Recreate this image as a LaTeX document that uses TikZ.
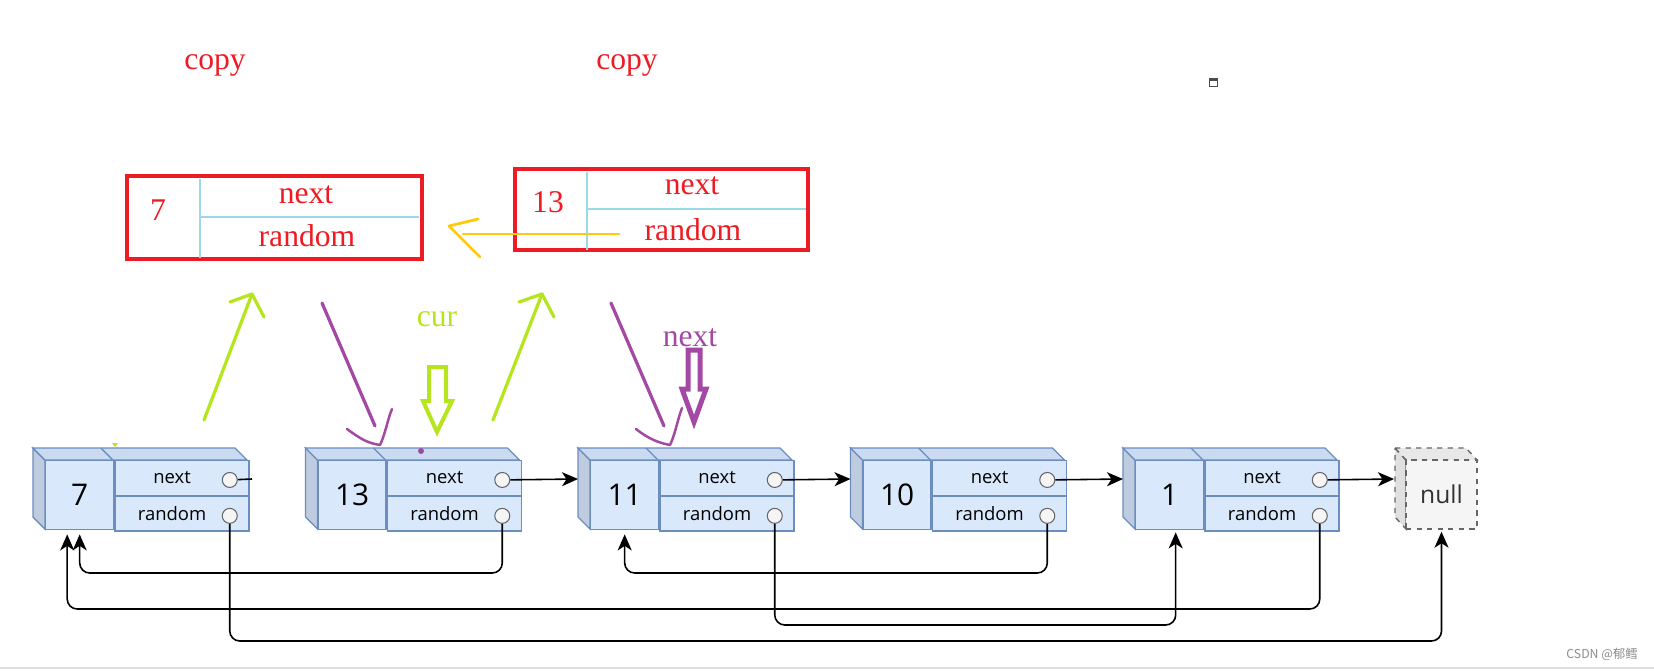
\documentclass[tikz,border=0pt]{standalone}
\usepackage{fontspec}
\setmainfont{Liberation Serif}
\newfontfamily\lblfont{Open Sans}
\newfontfamily\cjkfont{Noto Sans CJK SC}
\usetikzlibrary{arrows.meta,positioning}

\definecolor{nodefill}{HTML}{DAE8FC}
\definecolor{nodeline}{HTML}{6C8EBF}
\definecolor{topfill}{HTML}{CADAF0}
\definecolor{sidefill}{HTML}{BFCCE0}
\definecolor{ptrfill}{HTML}{F5F5F5}
\definecolor{ptrline}{HTML}{666666}
\definecolor{pred}{HTML}{ED1C24}
\definecolor{plime}{HTML}{B5E61D}
\definecolor{ppurple}{HTML}{A349A4}
\definecolor{porange}{HTML}{FFC90E}
\definecolor{pblue}{HTML}{99D9EA}

\tikzset{
  val/.style={draw=nodeline, fill=nodefill, line width=0.8pt, minimum width=13.6mm, minimum height=13.8mm, inner sep=0pt, font=\lblfont\fontsize{17}{17}\selectfont},
  fld/.style={draw=nodeline, fill=nodefill, line width=0.8pt, minimum width=26.8mm, minimum height=6.9mm, inner sep=0pt},
  fldtext/.style={font=\lblfont\fontsize{10.5}{10.5}\selectfont, inner sep=0pt},
  ptr/.style={circle, draw=ptrline, fill=ptrfill, line width=0.6pt, minimum size=3mm, inner sep=0pt},
  link/.style={-{Stealth[length=3.2mm, width=2.8mm, inset=0.9mm]}, line width=0.9pt},
  rlink/.style={link, rounded corners=2mm},
  copybox/.style={draw=pred, line width=0.8mm, inner sep=0pt},
  redtext/.style={text=pred, font=\fontsize{18}{18}\selectfont, inner sep=0pt},
  cline/.style={pblue, line width=0.5mm},
  scrib/.style={line width=0.65mm, line cap=round, line join=round}
}

\begin{document}
\begin{tikzpicture}[x=0.02cm, y=-0.02cm]
\useasboundingbox (0,0) rectangle (1654,670);

\foreach \x/\v/\n in {45/7/a,317.5/13/b,590/11/c,862.5/10/d,1135/1/e}{
  \filldraw[draw=nodeline, fill=sidefill, line width=0.8pt] (\x-12,448) -- (\x,460) -- (\x,529) -- (\x-12,517) -- cycle;
  \filldraw[draw=nodeline, fill=topfill, line width=0.8pt] (\x-12,448) -- (\x+190,448) -- (\x+202,460) -- (\x,460) -- cycle;
  \draw[nodeline, line width=0.8pt] (\x+56,448) -- (\x+68,460);
  \node[val, anchor=north west] (v\n) at (\x,460) {\v};
  \node[fld, anchor=north west] (n\n) at (v\n.north east) {};
  \node[fld, anchor=north west] (r\n) at (n\n.south west) {};
  \node[fldtext] at ([xshift=-2mm]n\n.center) {next};
  \node[fldtext] at ([xshift=-2mm]r\n.center) {random};
  \node[ptr] (pn\n) at ([xshift=-4mm,yshift=-0.4mm]n\n.east) {};
  \node[ptr] (pr\n) at ([xshift=-4mm,yshift=-0.4mm]r\n.east) {};
  \coordinate (in\n) at (\x-12,479);
}

\filldraw[draw=ptrline, fill=black!12, dashed, line width=0.8pt] (1395,448) -- (1406,460) -- (1406,529) -- (1395,517) -- cycle;
\filldraw[draw=ptrline, fill=black!9, dashed, line width=0.8pt] (1395,448) -- (1466,448) -- (1477,460) -- (1406,460) -- cycle;
\node[draw=ptrline, fill=ptrfill, dashed, line width=0.8pt, minimum width=14.2mm, minimum height=13.8mm, inner sep=0pt, text=black!80, font=\lblfont\fontsize{14}{14}\selectfont] (nul) at (1441.5,494.5) {null};
\coordinate (innul) at (1394,479);

\coordinate (stub) at (252,479);
\draw[line width=0.9pt] (pna) -- (stub);
\draw[link] (pnb) -- (inc);
\draw[link] (pnc) -- (ind);
\draw[link] (pnd) -- (ine);
\draw[link] (pne) -- (innul);

\coordinate (lv1) at (0,573);
\coordinate (lv2) at (0,609);
\coordinate (lv3) at (0,625);
\coordinate (lv4) at (0,641);
\draw[rlink, shorten >=0.8mm] (prb) -- (prb |- lv1) -| (va.south);
\draw[rlink, shorten >=0.8mm] (pre) -- (pre |- lv2) -| ([xshift=-2.5mm]va.south);
\draw[rlink, shorten >=0.8mm] (prd) -- (prd |- lv1) -| (vc.south);
\draw[rlink, shorten >=0.4mm] (prc) -- (prc |- lv3) -| ([xshift=1.2mm]ve.south);
\draw[rlink, shorten >=0.4mm] (pra) -- (pra |- lv4) -| (nul.south);

\node[copybox, minimum width=59mm, minimum height=16.6mm] (cpa) at (274.5,217.5) {};
\draw[cline] (200,179) -- (200,258);
\draw[cline] (200,217) -- (419,217);
\node[redtext] (cpa7) at (158,210) {7};
\node[redtext] (cpan) at (306,195) {next};
\node[redtext] (cpar) at (307,236) {random};

\node[copybox, minimum width=58.6mm, minimum height=16.2mm] (cpb) at (661.5,209.5) {};
\draw[cline] (587,172) -- (587,250);
\draw[cline] (587,209) -- (806,209);
\node[redtext] (cpb13) at (548,202) {13};
\node[redtext] (cpbn) at (692,186) {next};
\node[redtext] (cpbr) at (693,230) {random};

\node[redtext] (copya) at (215,65) {copy};
\node[redtext] (copyb) at (627,65) {copy};
\node[redtext, text=plime] (cur) at (437,319) {cur};
\node[redtext, text=ppurple] (nxt) at (690,338) {next};

\coordinate (ga0) at (204,420);
\coordinate (ga1) at (252,294);
\draw[scrib, plime] (ga0) -- (ga1);
\draw[scrib, plime] (230,302) -- (ga1) -- (264,317);
\coordinate (gb0) at (493,420);
\coordinate (gb1) at (542,294);
\draw[scrib, plime] (gb0) -- (gb1);
\draw[scrib, plime] (519,302) -- (gb1) -- (554,317);

\draw[scrib, ppurple] (322,303) -- (375,426);
\draw[scrib, ppurple, line width=0.5mm] (347,429) .. controls (362,440) and (368,443) .. (380,445) .. controls (385,435) and (388,418) .. (392,409);
\draw[scrib, ppurple] (611,303) -- (664,426);
\draw[scrib, ppurple, line width=0.5mm] (636,429) .. controls (650,440) and (660,443) .. (670,445) .. controls (675,435) and (678,418) .. (682,408);

\coordinate (oa0) at (619,234);
\coordinate (oa1) at (463,234);
\draw[scrib, porange, line width=0.55mm] (oa0) -- (oa1);
\draw[scrib, porange, line width=0.55mm] (478,219) -- (449,226) -- (480,257);

\draw[plime, line width=0.8mm, line join=miter] (429,367) -- (429,401) -- (423,401) -- (437,432) -- (452,401) -- (446,401) -- (446,367) -- cycle;
\draw[ppurple, line width=1mm, line join=miter] (688,350) -- (688,389) -- (682,389) -- (694,422) -- (706,389) -- (700,389) -- (700,350) -- cycle;

\fill[ppurple] (421,451) circle (0.6mm);
\fill[plime] (112,443) -- (118,443) -- (115,447) -- cycle;

\draw[black!70, fill=white, line width=0.4pt] (1209,78) rectangle (1217,86);
\fill[black!70] (1209,78) rectangle (1217,80.5);

\node[text=black!45, font=\cjkfont\fontsize{7}{7}\selectfont, inner sep=0pt] (wm) at (1602,654) {CSDN @郁鳕};
\draw[black!12, line width=0.6pt] (0,668) -- (1654,668);
\end{tikzpicture}
\end{document}
